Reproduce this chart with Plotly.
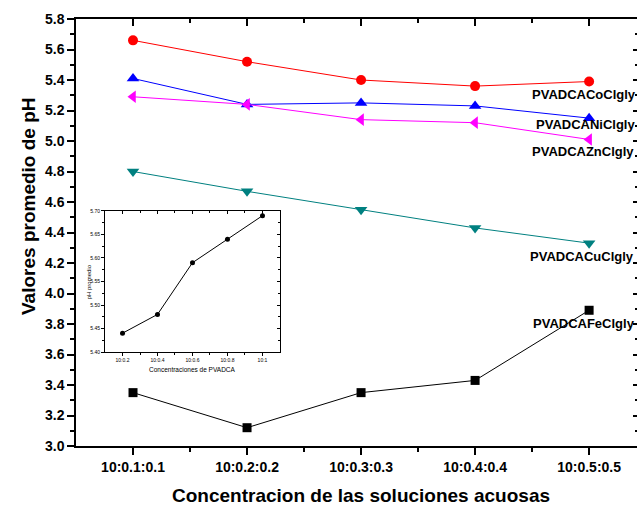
import plotly.graph_objects as go

categories = ["10:0.1:0.1", "10:0.2:0.2", "10:0.3:0.3", "10:0.4:0.4", "10:0.5:0.5"]
co = [5.66, 5.52, 5.40, 5.36, 5.39]
ni = [5.41, 5.24, 5.25, 5.23, 5.15]
zn = [5.29, 5.24, 5.14, 5.12, 5.01]
cu = [4.80, 4.67, 4.55, 4.43, 4.33]
fe = [3.35, 3.12, 3.35, 3.43, 3.89]

inset_categories = ["10:0.2", "10:0.4", "10:0.6", "10:0.8", "10:1"]
inset_values = [5.44, 5.48, 5.59, 5.64, 5.69]

series = [
    ("PVADCACoClgly", co, "#FF0000", "circle", 10, -13, -59),
    ("PVADCANiClgly", ni, "#0000FF", "triangle-up", 11, -6, -55),
    ("PVADCAZnClgly", zn, "#FF00FF", "triangle-left", 11, -12, -59),
    ("PVADCACuClgly", cu, "#008080", "triangle-down", 11, -13, -61),
    ("PVADCAFeClgly", fe, "#000000", "square", 9, -13, -58),
]

FONT = "Liberation Sans, Arial, sans-serif"
xs = list(range(len(categories)))

fig = go.Figure()
annotations = []
for name, vals, color, sym, size, yshift, xshift in series:
    fig.add_trace(go.Scatter(
        x=xs, y=vals, mode="lines+markers", name=name,
        line=dict(color=color, width=1),
        marker=dict(symbol=sym, size=size, color=color),
        xaxis="x", yaxis="y", showlegend=False,
    ))
    annotations.append(dict(
        x=xs[-1], y=vals[-1], xref="x", yref="y", text=name, showarrow=False,
        xanchor="left", yanchor="middle", xshift=xshift, yshift=yshift,
        font=dict(family=FONT, size=13, color="black", weight="bold"),
    ))

# helper invisible trace for mirror axes
fig.add_trace(go.Scatter(x=[0], y=[4], mode="markers", marker=dict(opacity=0),
                         xaxis="x2", yaxis="y2", showlegend=False, hoverinfo="skip"))

# inset
ixs = list(range(len(inset_categories)))
fig.add_trace(go.Scatter(
    x=ixs, y=inset_values, mode="lines+markers",
    line=dict(color="black", width=1), marker=dict(symbol="circle", size=5, color="black"),
    xaxis="x3", yaxis="y3", showlegend=False,
))
fig.add_trace(go.Scatter(x=[0], y=[5.5], mode="markers", marker=dict(opacity=0),
                         xaxis="x4", yaxis="y4", showlegend=False, hoverinfo="skip"))

xr = [-0.5, 4.42]
yr = [3.0, 5.8]
tickfont = dict(family=FONT, size=14, color="black", weight="bold")

ix_dom = [0.0517, 0.3636]
iy_dom = [0.2201, 0.5504]
ixr = [-0.5, 4.5]
iyr = [5.40, 5.70]
itickfont = dict(family=FONT, size=5, color="black")

annotations += [
    dict(text="Valores promedio de pH", xref="paper", yref="paper", x=-0.0856, y=0.562,
         textangle=-90, showarrow=False, xanchor="center", yanchor="middle",
         font=dict(family=FONT, size=19, color="black", weight="bold")),
    dict(text="Concentracion de las soluciones acuosas", xref="paper", yref="paper",
         x=0.508, y=-0.117, showarrow=False, xanchor="center", yanchor="middle",
         font=dict(family=FONT, size=19, color="black", weight="bold")),
    dict(text="Concentraciones de PVADCA", xref="paper", yref="paper",
         x=(ix_dom[0] + ix_dom[1]) / 2, y=iy_dom[0] - 0.042, showarrow=False,
         xanchor="center", yanchor="middle", font=dict(family=FONT, size=6.5, color="black")),
    dict(text="pH promedio", xref="paper", yref="paper", x=ix_dom[0] - 0.027,
         y=(iy_dom[0] + iy_dom[1]) / 2, textangle=-90, showarrow=False,
         xanchor="center", yanchor="middle", font=dict(family=FONT, size=6, color="black")),
]

fig.update_layout(
    width=637, height=508,
    margin=dict(l=76, r=0, t=19, b=62),
    paper_bgcolor="white", plot_bgcolor="white",
    showlegend=False,
    annotations=annotations,
    xaxis=dict(range=xr, tickmode="array", tickvals=xs, ticktext=categories,
               ticks="outside", ticklen=7, tickwidth=1.5, tickcolor="black",
               minor=dict(tickvals=[0.5, 1.5, 2.5, 3.5], ticks="outside", ticklen=4,
                          tickwidth=1.5, tickcolor="black"),
               showline=True, linewidth=1.5, linecolor="black", mirror=True,
               showgrid=False, zeroline=False, tickfont=tickfont, fixedrange=True),
    yaxis=dict(range=yr, tickmode="linear", tick0=3.0, dtick=0.2, tickformat=".1f",
               ticks="outside", ticklen=7, tickwidth=1.5, tickcolor="black",
               minor=dict(tick0=3.0, dtick=0.1, ticks="outside", ticklen=4,
                          tickwidth=1.5, tickcolor="black"),
               showline=True, linewidth=1.5, linecolor="black", mirror=False,
               showgrid=False, zeroline=False, tickfont=tickfont),
    xaxis2=dict(overlaying="x", side="top", range=xr, tickmode="array", tickvals=xs,
                showticklabels=False, ticks="inside", ticklen=7, tickwidth=1.5,
                tickcolor="black",
                minor=dict(tickvals=[0.5, 1.5, 2.5, 3.5], ticks="inside", ticklen=4,
                           tickwidth=1.5, tickcolor="black"),
                showgrid=False, zeroline=False, showline=False, anchor="y2"),
    yaxis2=dict(overlaying="y", side="right", range=yr, tickmode="linear", tick0=3.0,
                dtick=0.2, showticklabels=False, ticks="inside", ticklen=4, tickwidth=1.5,
                tickcolor="black",
                minor=dict(tick0=3.0, dtick=0.1, ticks="inside", ticklen=2,
                           tickwidth=1.5, tickcolor="black"),
                showgrid=False, zeroline=False, showline=False, anchor="x2"),
    xaxis3=dict(domain=ix_dom, anchor="y3", range=ixr, tickmode="array", tickvals=ixs,
                ticktext=inset_categories, ticks="outside", ticklen=3, tickwidth=1,
                tickcolor="black",
                minor=dict(tickvals=[0.5, 1.5, 2.5, 3.5], ticks="outside", ticklen=2,
                           tickwidth=1, tickcolor="black"),
                showline=True, linewidth=1, linecolor="black", mirror=True,
                showgrid=False, zeroline=False, tickfont=itickfont),
    yaxis3=dict(domain=iy_dom, anchor="x3", range=iyr, tickmode="linear", tick0=5.40,
                dtick=0.05, tickformat=".2f", ticks="outside", ticklen=3, tickwidth=1,
                tickcolor="black",
                minor=dict(tick0=5.40, dtick=0.025, ticks="outside", ticklen=2,
                           tickwidth=1, tickcolor="black"),
                showline=True, linewidth=1, linecolor="black", mirror=True,
                showgrid=False, zeroline=False, tickfont=itickfont),
    xaxis4=dict(overlaying="x3", side="top", range=ixr, tickmode="array", tickvals=ixs,
                showticklabels=False, ticks="inside", ticklen=3, tickwidth=1,
                tickcolor="black",
                minor=dict(tickvals=[0.5, 1.5, 2.5, 3.5], ticks="inside", ticklen=2,
                           tickwidth=1, tickcolor="black"),
                showgrid=False, zeroline=False, showline=False, anchor="y4"),
    yaxis4=dict(overlaying="y3", side="right", range=iyr, tickmode="linear", tick0=5.40,
                dtick=0.05, showticklabels=False, ticks="inside", ticklen=3, tickwidth=1,
                tickcolor="black",
                minor=dict(tick0=5.40, dtick=0.025, ticks="inside", ticklen=2,
                           tickwidth=1, tickcolor="black"),
                showgrid=False, zeroline=False, showline=False, anchor="x4"),
)

fig.write_html("out.html")
